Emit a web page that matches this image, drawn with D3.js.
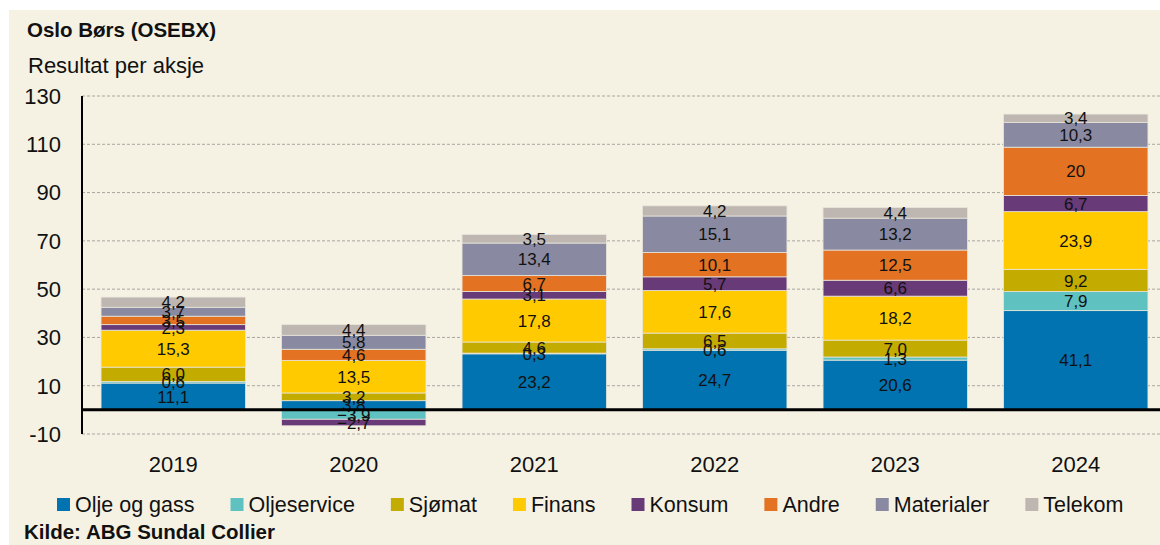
<!DOCTYPE html>
<html>
<head>
<meta charset="utf-8">
<script src="https://cdn.jsdelivr.net/npm/d3@7"></script>
<style>
  body { margin: 0; background: #ffffff; }
  svg { display: block; }
  .tick-label, .year-label { font-family: "Liberation Sans", Arial, sans-serif; font-size: 22px; fill: #111; }
  .legend-label { font-family: "Liberation Sans", Arial, sans-serif; font-size: 21.5px; fill: #111; }
  .bar-label { font-family: "Liberation Sans", Arial, sans-serif; font-size: 17px; fill: #111; }
</style>
</head>
<body>
<svg id="chart" width="1160" height="545"></svg>
<script>
// Data
var years = ["2019", "2020", "2021", "2022", "2023", "2024"];

var sectors = ["Olje og gass", "Oljeservice", "Sjømat", "Finans", "Konsum", "Andre", "Materialer", "Telekom"];

var oljeOgGass = [11.1, 3.8, 23.2, 24.7, 20.6, 41.1];
var oljeservice = [0.6, -3.9, 0.3, 0.6, 1.3, 7.9];
var sjomat = [6.0, 3.2, 4.6, 6.5, 7.0, 9.2];
var finans = [15.3, 13.5, 17.8, 17.6, 18.2, 23.9];
var konsum = [2.3, -2.7, 3.1, 5.7, 6.6, 6.7];
var andre = [3.5, 4.6, 6.7, 10.1, 12.5, 20];
var materialer = [3.7, 5.8, 13.4, 15.1, 13.2, 10.3];
var telekom = [4.2, 4.4, 3.5, 4.2, 4.4, 3.4];

var yTicks = [-10, 10, 30, 50, 70, 90, 110, 130];

var colors = ["#0073b0", "#5fc1c0", "#c4ab00", "#ffcb00", "#693a78", "#e37222", "#898aa1", "#bdb6b1"];

// Build a table the stack layout can use
var seriesValues = [oljeOgGass, oljeservice, sjomat, finans, konsum, andre, materialer, telekom];
var table = years.map(function(yr, i) {
	var row = { year: yr };
	sectors.forEach(function(s, j) { row[s] = seriesValues[j][i]; });
	return row;
});

// the source prints "20" for Andre 2024, everything else with one decimal
var fmt = function(v) {
	if (v === 20) return "20";
	return d3.format(".1f")(v).replace(".", ",");
};

var svg = d3.select("#chart");

// cream panel
svg.append("rect")
.attr("x", 9).attr("y", 10)
.attr("width", 1151).attr("height", 535)
.attr("fill", "#f5f2e4");

var x = d3.scaleBand()
.domain(years)
.range([83, 1166])
.paddingInner(0.2)
.paddingOuter(0.1);

var y = d3.scaleLinear()
.domain([-10, 130])
.range([434, 96]);

// dashed gridlines
svg.append("g")
.selectAll("line")
.data(yTicks)
.enter().append("line")
.attr("x1", 82).attr("x2", 1160)
.attr("y1", function(d) { return y(d); })
.attr("y2", function(d) { return y(d); })
.attr("stroke", "#a9a6a0")
.attr("stroke-width", 1)
.attr("stroke-dasharray", "3,2");

// y-axis labels
svg.append("g")
.selectAll("text")
.data(yTicks)
.enter().append("text")
.attr("class", "tick-label")
.attr("x", 61)
.attr("y", function(d) { return y(d); })
.attr("dy", "0.36em")
.attr("text-anchor", "end")
.text(function(d) { return d; });

// stacked bars, negative values stack below zero
var stack = d3.stack()
.keys(sectors)
.offset(d3.stackOffsetDiverging);

var layers = stack(table);

var layerG = svg.append("g")
.selectAll("g")
.data(layers)
.enter().append("g")
.attr("fill", function(d, i) { return colors[i]; });

layerG.selectAll("rect")
.data(function(d) { return d; })
.enter().append("rect")
.attr("x", function(d) { return x(d.data.year); })
.attr("y", function(d) { return y(Math.max(d[0], d[1])); })
.attr("width", x.bandwidth())
.attr("height", function(d) { return Math.abs(y(d[0]) - y(d[1])); })
.attr("stroke", "#e9e5da")
.attr("stroke-width", 0.8);

// value labels in the middle of each segment
layers.forEach(function(layer) {
	svg.append("g")
	.selectAll("text")
	.data(layer)
	.enter().append("text")
	.attr("class", "bar-label")
	.attr("x", function(d) { return x(d.data.year) + x.bandwidth() / 2; })
	.attr("y", function(d) { return y((d[0] + d[1]) / 2); })
	.attr("dy", "0.36em")
	.attr("text-anchor", "middle")
	.text(function(d) { return fmt(d.data[layer.key]); });
});

// y-axis line and zero line
svg.append("line")
.attr("x1", 82).attr("x2", 82)
.attr("y1", y(130)).attr("y2", y(-10))
.attr("stroke", "#000").attr("stroke-width", 2);

svg.append("line")
.attr("x1", 82).attr("x2", 1160)
.attr("y1", y(0)).attr("y2", y(0))
.attr("stroke", "#000").attr("stroke-width", 3);

// year labels
svg.append("g")
.selectAll("text")
.data(years)
.enter().append("text")
.attr("class", "year-label")
.attr("x", function(d) { return x(d) + x.bandwidth() / 2; })
.attr("y", 472)
.attr("text-anchor", "middle")
.text(function(d) { return d; });

// legend
var legend = svg.append("g");
var lx = 57;
sectors.forEach(function(s, i) {
	legend.append("rect")
	.attr("x", lx).attr("y", 498)
	.attr("width", 13).attr("height", 13)
	.attr("fill", colors[i]);
	var t = legend.append("text")
	.attr("class", "legend-label")
	.attr("x", lx + 18)
	.attr("y", 512)
	.text(s);
	lx = lx + 18 + t.node().getComputedTextLength() + 36;
});

// titles and source
svg.append("text")
.attr("x", 27).attr("y", 37)
.attr("font-family", "'Liberation Sans', Arial, sans-serif")
.attr("font-size", 20.5).attr("font-weight", "bold")
.attr("fill", "#111")
.text("Oslo Børs (OSEBX)");

svg.append("text")
.attr("x", 28).attr("y", 73)
.attr("font-family", "'Liberation Sans', Arial, sans-serif")
.attr("font-size", 22)
.attr("fill", "#111")
.text("Resultat per aksje");

svg.append("text")
.attr("x", 24).attr("y", 539)
.attr("font-family", "'Liberation Sans', Arial, sans-serif")
.attr("font-size", 20.5).attr("font-weight", "bold")
.attr("fill", "#111")
.text("Kilde: ABG Sundal Collier");
</script>
</body>
</html>
